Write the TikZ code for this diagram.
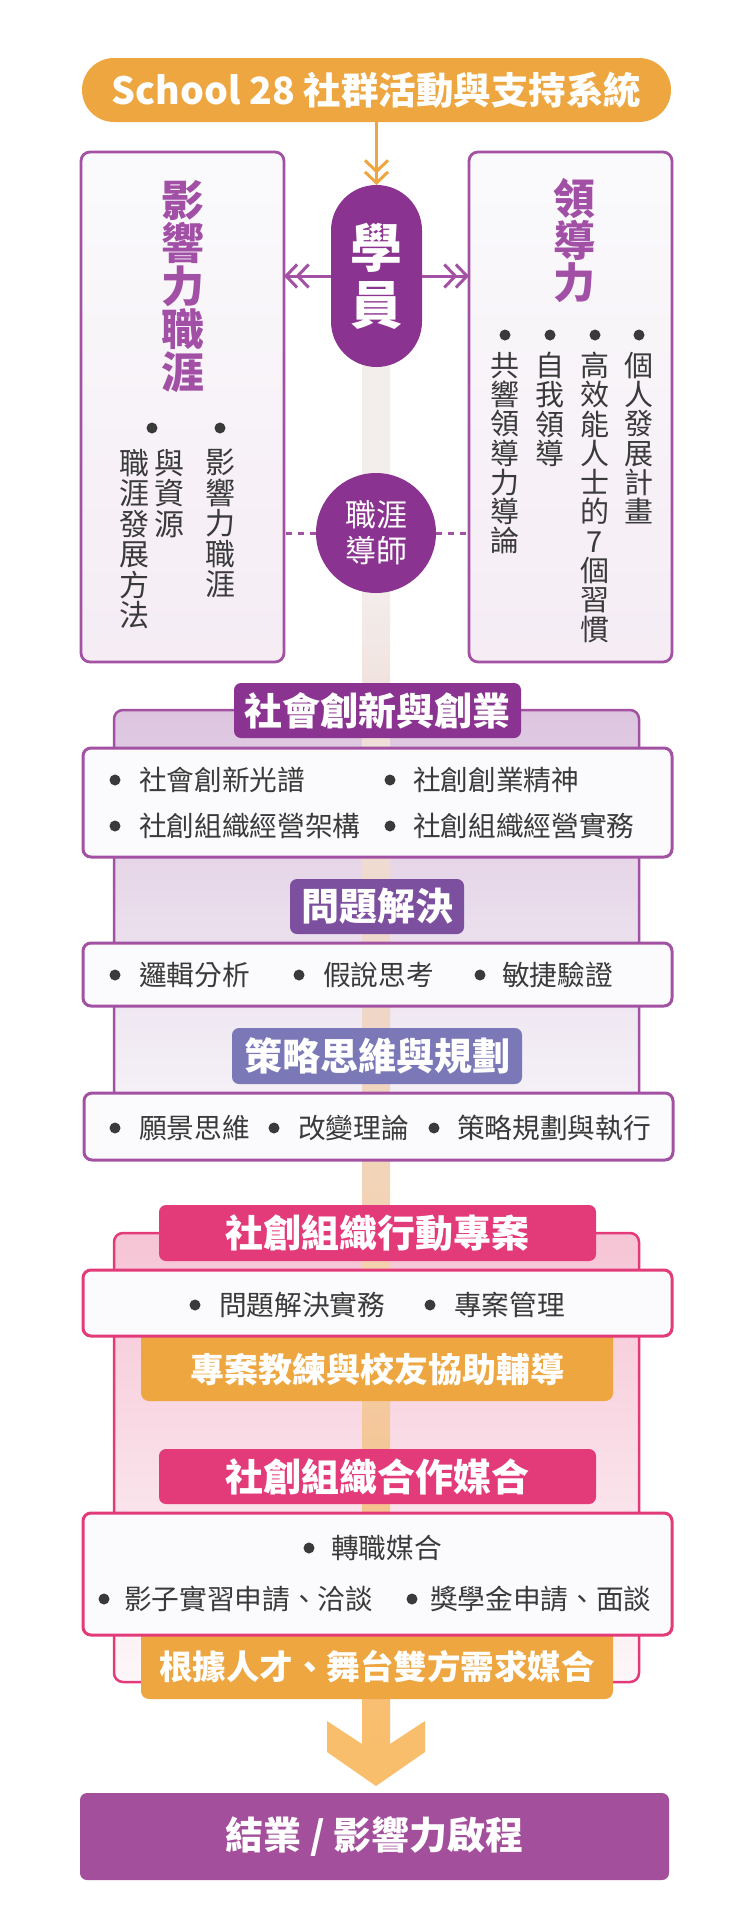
\documentclass[tikz,border=0pt]{standalone}
\usepackage{fontspec}
\setmainfont{Noto Sans CJK TC}
\usetikzlibrary{arrows.meta}
\definecolor{cOrange}{HTML}{EDA640}
\definecolor{cPurple}{HTML}{8B3390}
\definecolor{cPurpleLine}{HTML}{A352A3}
\definecolor{cTitleP}{HTML}{A24FA6}
\definecolor{cHdrB}{HTML}{7C4F9F}
\definecolor{cHdrC}{HTML}{7A78B7}
\definecolor{cPink}{HTML}{E33B7A}
\definecolor{cFinal}{HTML}{A34F9C}
\definecolor{cText}{HTML}{3A3A3A}
\definecolor{cWhiteBox}{HTML}{FBFBFD}
\definecolor{cBoxTop}{HTML}{FAFAFC}
\definecolor{cBoxBot}{HTML}{F5ECF4}
\definecolor{cBgPTop}{HTML}{DDC5DF}
\definecolor{cBgPBot}{HTML}{F7F5F9}
\definecolor{cBgKTop}{HTML}{F6C4D5}
\definecolor{cBgKBot}{HTML}{FDF7F9}
\definecolor{cSpA}{HTML}{F9BE6C}
\definecolor{cSpB}{HTML}{F4C89C}
\definecolor{cSpC}{HTML}{F2D4B8}
\definecolor{cSpD}{HTML}{EFD6C8}
\definecolor{cSpE}{HTML}{F0E0DA}
\definecolor{cSpF}{HTML}{F3ECEA}
\definecolor{cSpG}{HTML}{F3EEEC}
\definecolor{cArrow}{HTML}{F9BE6C}
\pgfdeclareverticalshading{spineshade}{100bp}{color(0bp)=(cSpA); color(25bp)=(cSpA); color(36.09bp)=(cSpB); color(44.25bp)=(cSpC); color(50.37bp)=(cSpD); color(59.9bp)=(cSpE); color(63.98bp)=(cSpF); color(75bp)=(cSpG); color(100bp)=(cSpG)}
\tikzset{
  wbox/.style={draw=cPurpleLine, line width=3pt, rounded corners=8pt, fill=cWhiteBox, anchor=north west},
  kbox/.style={draw=cPink, line width=3pt, rounded corners=8pt, fill=cWhiteBox, anchor=north west},
  hdr/.style={rounded corners=7pt, text=white, font=\fontsize{38}{40}\selectfont\bfseries},
  obox/.style={rounded corners=8pt, fill=cOrange, minimum width=472pt},
  item/.style={anchor=west, text=cText, font=\fontsize{27.7}{30}\selectfont},
  dotmark/.style={circle, fill=cText, minimum size=11pt},
  vitemR/.style={anchor=north, align=center, text=cText, font=\fontsize{29}{29.3}\selectfont},
  vitemL/.style={anchor=north, align=center, text=cText, font=\fontsize{30}{30.5}\selectfont},
  sidebox/.style={draw=cPurpleLine, line width=2.8pt, rounded corners=9pt, top color=cBoxTop, bottom color=cBoxBot, anchor=north west, minimum width=203pt, minimum height=510pt},
  dchev/.style={-{Straight Barb[length=11pt,width=23pt,sep=-3pt]Straight Barb[length=11pt,width=23pt]}},
}
\begin{document}
\begin{tikzpicture}[x=1pt,y=-1pt, every node/.style={inner sep=0pt, outer sep=0pt}]
\useasboundingbox (0,0) rectangle (750,1920);
\fill[white] (0,0) rectangle (750,1920);

% background section boxes
\node[draw=cPurpleLine, line width=2.5pt, rounded corners=9pt, top color=cBgPTop, bottom color=cBgPBot, anchor=north west, minimum width=525pt, minimum height=420pt] (bgA) at (114,710) {};
\node[draw=cPink, line width=2.5pt, rounded corners=9pt, top color=cBgKTop, bottom color=cBgKBot, anchor=north west, minimum width=525pt, minimum height=449pt] (bgB) at (114,1233) {};

% spine
\node[anchor=north, minimum width=28pt, minimum height=1470pt, shading=spineshade] (spine) at (376,276) {};

% orange boxes
\node[obox, anchor=north, minimum height=75pt] (oA) at (377,1326) {};
\node[text=white, font=\fontsize{34}{36}\selectfont\bfseries] (oAt) at (377,1369) {專案教練與校友協助輔導};
\node[obox, anchor=north, minimum height=75pt] (oB) at (377,1624) {};
\node[text=white, font=\fontsize{33.5}{36}\selectfont\bfseries] (oBt) at (377,1667) {根據人才、舞台雙方需求媒合};

% big arrow to final
\fill[cArrow] (362,1744) -- (327,1721) -- (327,1752) -- (376,1786) -- (425,1752) -- (425,1721) -- (390,1744) -- cycle;

% white boxes
\node[wbox, minimum width=589pt, minimum height=109pt] (wA) at (83,748) {};
\node[wbox, minimum width=589pt, minimum height=63pt] (wB) at (83,943) {};
\node[wbox, minimum width=589pt, minimum height=67pt] (wC) at (84,1093) {};
\node[kbox, minimum width=589pt, minimum height=66pt] (wD) at (83,1270) {};
\node[kbox, minimum width=589pt, minimum height=122pt] (wE) at (83,1513) {};

% headers
\node[hdr, fill=cPurple, minimum width=287pt, minimum height=55pt] (hA) at (377.5,710.5) {社會創新與創業};
\node[hdr, fill=cHdrB, minimum width=174pt, minimum height=55pt] (hB) at (377,906.5) {問題解決};
\node[hdr, fill=cHdrC, minimum width=290pt, minimum height=56pt] (hC) at (377,1056) {策略思維與規劃};
\node[hdr, fill=cPink, minimum width=437pt, minimum height=56pt] (hD) at (377.5,1233) {社創組織行動專案};
\node[hdr, fill=cPink, minimum width=437pt, minimum height=55pt] (hE) at (377.5,1476.5) {社創組織合作媒合};

% items box A
\node[dotmark] (dA1) at (115,780) {}; \node[item] (tA1) at (139,780) {社會創新光譜};
\node[dotmark] (dA2) at (390,780) {}; \node[item] (tA2) at (413,780) {社創創業精神};
\node[dotmark] (dA3) at (115,826) {}; \node[item] (tA3) at (139,826) {社創組織經營架構};
\node[dotmark] (dA4) at (390,826) {}; \node[item] (tA4) at (413,826) {社創組織經營實務};
% items box B
\node[dotmark] (dB1) at (115,975) {}; \node[item] (tB1) at (139,975) {邏輯分析};
\node[dotmark] (dB2) at (299,975) {}; \node[item] (tB2) at (323,975) {假說思考};
\node[dotmark] (dB3) at (480,975) {}; \node[item] (tB3) at (502,975) {敏捷驗證};
% items box C
\node[dotmark] (dC1) at (115,1128) {}; \node[item] (tC1) at (139,1128) {願景思維};
\node[dotmark] (dC2) at (274,1128) {}; \node[item] (tC2) at (298,1128) {改變理論};
\node[dotmark] (dC3) at (434,1128) {}; \node[item] (tC3) at (457,1128) {策略規劃與執行};
% items box D
\node[dotmark] (dD1) at (195,1305) {}; \node[item] (tD1) at (219,1305) {問題解決實務};
\node[dotmark] (dD2) at (430,1305) {}; \node[item] (tD2) at (454,1305) {專案管理};
% items box E
\node[dotmark] (dE1) at (309,1548) {}; \node[item] (tE1) at (331,1548) {轉職媒合};
\node[dotmark] (dE2) at (104,1599) {}; \node[item] (tE2) at (124,1599) {影子實習申請、洽談};
\node[dotmark] (dE3) at (412,1599) {}; \node[item] (tE3) at (430,1599) {獎學金申請、面談};

% final box
\node[fill=cFinal, rounded corners=7pt, anchor=north west, minimum width=589pt, minimum height=87pt] (fin) at (80,1793) {};
\node[text=white, font=\fontsize{38}{40}\selectfont\bfseries] (fint) at (fin.center) {結業 / 影響力啟程};

% top part
\node[sidebox] (lbox) at (81,152) {};
\node[sidebox] (rbox) at (469,152) {};
\node[anchor=north, align=center, text=cTitleP, font=\fontsize{43}{43}\selectfont\bfseries] (lt) at (183,180) {影\\響\\力\\職\\涯};
\node[anchor=north, align=center, text=cTitleP, font=\fontsize{42}{42}\selectfont\bfseries] (rt) at (574,178) {領\\導\\力};

\node[dotmark] (dR1) at (639,335) {}; \node[vitemR] (tR1) at (639,352) {個\\人\\發\\展\\計\\畫};
\node[dotmark] (dR2) at (595,335) {}; \node[vitemR] (tR2) at (595,352) {高\\效\\能\\人\\士\\的\\7\\個\\習\\慣};
\node[dotmark] (dR3) at (550,335) {}; \node[vitemR] (tR3) at (550,352) {自\\我\\領\\導};
\node[dotmark] (dR4) at (505,335) {}; \node[vitemR] (tR4) at (505,352) {共\\響\\領\\導\\力\\導\\論};

\node[dotmark] (dL1) at (220,428) {}; \node[vitemL] (tL1) at (220,449) {影\\響\\力\\職\\涯};
\node[dotmark] (dL2) at (152,428) {}; \node[vitemL] (tL2) at (169,449) {與\\資\\源};
\node[vitemL] (tL3) at (134,449) {職\\涯\\發\\展\\方\\法};

\node[fill=cOrange, rounded corners=32pt, minimum width=589pt, minimum height=64pt] (title) at (376.5,90) {};
\node[text=white, font=\fontsize{37.5}{40}\selectfont\bfseries] (titlet) at (376.5,90) {School 28 社群活動與支持系統};
\node[fill=cPurple, rounded corners=45.5pt, minimum width=91pt, minimum height=182pt, align=center, text=white, font=\fontsize{52}{57}\selectfont\bfseries] (xy) at (376.5,276) {學\\員};
\node[circle, fill=cPurple, minimum size=120pt, align=center, text=white, font=\fontsize{31}{36}\selectfont] (mt) at (376,533) {職涯\\導師};

\draw[cOrange, line width=3pt, dchev] (title.south) -- (xy.north);
\draw[cPurpleLine, line width=3pt, dchev] (xy.west) -- (xy.west -| lbox.east);
\draw[cPurpleLine, line width=3pt, dchev] (xy.east) -- (xy.east -| rbox.west);
\draw[cPurpleLine, line width=3pt, dash pattern=on 6pt off 6pt] (mt.west) -- (mt.west -| lbox.east);
\draw[cPurpleLine, line width=3pt, dash pattern=on 6pt off 6pt] (mt.east) -- (mt.east -| rbox.west);
\end{tikzpicture}
\end{document}
